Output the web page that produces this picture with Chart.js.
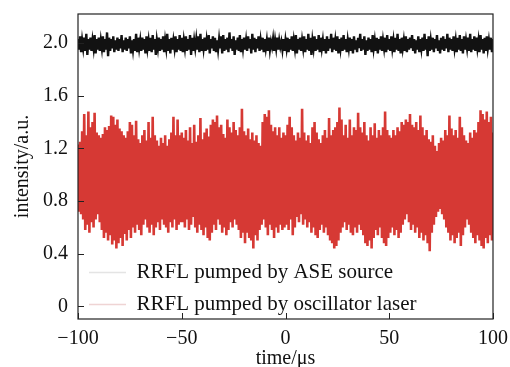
<!DOCTYPE html>
<html><head><meta charset="utf-8">
<script src="https://cdn.jsdelivr.net/npm/chart.js@4/dist/chart.umd.min.js"></script>
<style>html,body{margin:0;padding:0;background:#fff}#wrap{width:510px;height:367px}</style>
</head><body><div id="wrap"><canvas id="c" width="510" height="367"></canvas></div>
<script>
const xTicks = [-100, -50, 0, 50, 100];
const yTicks = [0, 0.4, 0.8, 1.2, 1.6, 2.0];
const yTickLabels = ['0', '0.4', '0.8', '1.2', '1.6', '2.0'];
const legendLabels = ['RRFL pumped by ASE source', 'RRFL pumped by oscillator laser'];

// red trace (oscillator-laser pumped): successive peak / trough readings, one pair per 1 µs from -100 µs
const redStart = -100, redStep = 1;
const redUpper = [
1.23,1.25,1.33,1.46,1.30,1.48,1.36,1.40,1.47,1.32,
1.30,1.28,1.31,1.36,1.34,1.37,1.45,1.44,1.38,1.42,
1.35,1.33,1.30,1.28,1.33,1.40,1.38,1.30,1.41,1.27,
1.24,1.30,1.34,1.26,1.40,1.28,1.44,1.30,1.26,1.22,
1.28,1.24,1.30,1.22,1.27,1.32,1.44,1.30,1.42,1.30,
1.32,1.28,1.34,1.26,1.36,1.24,1.38,1.25,1.30,1.43,
1.27,1.32,1.35,1.29,1.38,1.42,1.40,1.45,1.36,1.38,
1.31,1.28,1.42,1.36,1.32,1.40,1.34,1.30,1.36,1.50,
1.33,1.30,1.35,1.27,1.32,1.26,1.30,1.24,1.22,1.40,
1.46,1.44,1.49,1.38,1.33,1.36,1.30,1.36,1.28,1.32,
1.30,1.38,1.44,1.36,1.30,1.26,1.32,1.28,1.50,1.32,
1.26,1.30,1.24,1.36,1.40,1.32,1.27,1.24,1.30,1.34,
1.28,1.43,1.30,1.34,1.36,1.40,1.51,1.42,1.30,1.38,
1.28,1.42,1.30,1.36,1.34,1.47,1.36,1.32,1.40,1.30,
1.26,1.36,1.30,1.39,1.28,1.34,1.30,1.36,1.48,1.34,
1.30,1.28,1.34,1.30,1.36,1.33,1.40,1.38,1.42,1.40,
1.46,1.38,1.36,1.40,1.34,1.45,1.36,1.30,1.34,1.27,
1.25,1.30,1.22,1.18,1.24,1.28,1.26,1.34,1.30,1.45,
1.35,1.30,1.34,1.28,1.44,1.36,1.30,1.26,1.24,1.32,
1.28,1.34,1.32,1.40,1.49,1.46,1.42,1.48,1.40,1.44,
1.32];
const redLower = [
0.72,0.70,0.66,0.58,0.62,0.56,0.64,0.60,0.66,0.70,
0.64,0.58,0.52,0.56,0.50,0.54,0.47,0.50,0.44,0.48,
0.52,0.46,0.55,0.50,0.58,0.52,0.60,0.56,0.62,0.58,
0.54,0.62,0.66,0.60,0.56,0.62,0.54,0.60,0.64,0.58,
0.66,0.62,0.60,0.56,0.64,0.60,0.66,0.58,0.62,0.64,
0.64,0.60,0.66,0.58,0.62,0.68,0.60,0.56,0.62,0.58,
0.54,0.60,0.52,0.50,0.56,0.62,0.58,0.66,0.62,0.56,
0.60,0.54,0.58,0.64,0.60,0.66,0.62,0.58,0.52,0.56,
0.48,0.56,0.52,0.50,0.44,0.54,0.50,0.58,0.62,0.66,
0.60,0.54,0.62,0.58,0.52,0.60,0.56,0.62,0.58,0.60,
0.62,0.58,0.66,0.54,0.60,0.68,0.64,0.70,0.62,0.66,
0.60,0.64,0.56,0.60,0.54,0.52,0.58,0.62,0.56,0.60,
0.54,0.50,0.48,0.44,0.46,0.50,0.56,0.60,0.64,0.58,
0.62,0.56,0.54,0.60,0.56,0.62,0.58,0.54,0.48,0.46,
0.50,0.44,0.52,0.58,0.54,0.60,0.52,0.48,0.46,0.52,
0.56,0.60,0.54,0.58,0.52,0.56,0.62,0.66,0.70,0.64,
0.58,0.62,0.56,0.60,0.52,0.56,0.50,0.54,0.48,0.42,
0.56,0.62,0.68,0.72,0.74,0.70,0.66,0.60,0.56,0.50,
0.54,0.48,0.52,0.56,0.46,0.54,0.60,0.66,0.62,0.56,
0.52,0.48,0.54,0.50,0.46,0.44,0.52,0.48,0.54,0.50,
0.56];

// black trace (ASE pumped): successive peak / trough readings, one pair per 1 µs from -100 µs
const blackStart = -100, blackStep = 1;
const blackUpper = [
2.03,2.05,2.02,2.04,2.07,2.03,2.04,2.02,2.06,2.03,
2.04,2.02,2.05,2.03,2.08,2.04,2.03,2.05,2.02,2.04,
2.03,2.06,2.02,2.04,2.03,2.05,2.02,2.03,2.07,2.04,
2.02,2.04,2.03,2.05,2.02,2.04,2.06,2.03,2.02,2.04,
2.03,2.05,2.02,2.07,2.03,2.04,2.02,2.05,2.03,2.06,
2.04,2.02,2.05,2.03,2.06,2.04,2.02,2.03,2.05,2.07,
2.03,2.04,2.02,2.06,2.03,2.05,2.04,2.02,2.03,2.05,
2.06,2.03,2.04,2.08,2.03,2.05,2.02,2.04,2.06,2.03,
2.04,2.02,2.05,2.03,2.07,2.04,2.03,2.05,2.02,2.04,
2.03,2.02,2.04,2.01,2.03,2.02,2.04,2.02,2.01,2.03,
2.02,2.04,2.03,2.05,2.02,2.06,2.03,2.04,2.02,2.05,
2.03,2.07,2.04,2.02,2.05,2.03,2.06,2.04,2.02,2.03,
2.05,2.03,2.07,2.04,2.02,2.05,2.03,2.04,2.06,2.03,
2.02,2.04,2.03,2.05,2.02,2.04,2.07,2.03,2.05,2.02,
2.04,2.03,2.06,2.02,2.04,2.03,2.05,2.02,2.04,2.06,
2.03,2.05,2.02,2.04,2.07,2.03,2.04,2.02,2.05,2.03,
2.04,2.06,2.03,2.02,2.05,2.03,2.04,2.07,2.03,2.05,
2.02,2.04,2.03,2.06,2.02,2.04,2.05,2.03,2.07,2.04,
2.03,2.05,2.02,2.04,2.06,2.03,2.05,2.02,2.04,2.07,
2.03,2.05,2.04,2.02,2.06,2.03,2.04,2.05,2.02,2.04,
2.03];
const blackLower = [
1.95,1.93,1.96,1.94,1.91,1.95,1.94,1.96,1.92,1.95,
1.94,1.96,1.93,1.95,1.90,1.94,1.96,1.93,1.95,1.94,
1.96,1.93,1.95,1.94,1.96,1.92,1.95,1.94,1.93,1.96,
1.94,1.95,1.92,1.96,1.94,1.93,1.95,1.91,1.96,1.94,
1.95,1.93,1.96,1.94,1.92,1.95,1.96,1.93,1.95,1.94,
1.93,1.96,1.94,1.95,1.91,1.94,1.96,1.95,1.93,1.94,
1.96,1.94,1.95,1.92,1.96,1.94,1.93,1.95,1.96,1.92,
1.94,1.95,1.93,1.96,1.94,1.91,1.95,1.94,1.93,1.96,
1.95,1.94,1.96,1.92,1.95,1.93,1.96,1.94,1.95,1.93,
1.96,1.94,1.95,1.97,1.94,1.96,1.95,1.97,1.95,1.94,
1.96,1.93,1.95,1.94,1.96,1.92,1.95,1.94,1.96,1.93,
1.95,1.94,1.91,1.96,1.94,1.95,1.93,1.96,1.94,1.92,
1.94,1.96,1.93,1.95,1.94,1.92,1.96,1.94,1.95,1.93,
1.96,1.94,1.92,1.95,1.93,1.96,1.94,1.95,1.91,1.94,
1.95,1.93,1.96,1.94,1.92,1.95,1.94,1.96,1.93,1.95,
1.94,1.96,1.93,1.95,1.94,1.92,1.96,1.94,1.93,1.95,
1.96,1.94,1.92,1.95,1.93,1.96,1.94,1.95,1.90,1.94,
1.95,1.93,1.96,1.94,1.92,1.95,1.94,1.96,1.93,1.95,
1.94,1.96,1.93,1.95,1.94,1.92,1.95,1.96,1.94,1.93,
1.95,1.94,1.96,1.93,1.95,1.92,1.94,1.96,1.95,1.93,
1.95];

// interleave peak (at t) and trough (at t + step/2) readings into one oscillating trace
function toTrace(start, step, peaks, troughs) {
  const pts = [];
  for (let i = 0; i < peaks.length; i++) {
    pts.push({ x: start + i * step, y: peaks[i] });
    pts.push({ x: start + i * step + step / 2, y: troughs[i] });
  }
  return pts;
}

const RED = 'rgb(214,57,52)';
const BLACK = '#121212';

Chart.defaults.font.family = "'Liberation Serif','Times New Roman',serif";
Chart.defaults.font.size = 20;
Chart.defaults.color = '#111';

const framePlugin = {
  id: 'frame',
  afterLayout(chart) {
    const lg = chart.legend, a = chart.chartArea;
    if (lg && a) { lg.top = a.top; lg.bottom = a.bottom + 7; }
  },
  afterDatasetsDraw(chart) {
    const { ctx, chartArea: a, scales: { x, y } } = chart;
    ctx.save();
    ctx.strokeStyle = '#222';
    ctx.lineWidth = 1.2;
    ctx.strokeRect(a.left, a.top, a.right - a.left, a.bottom - a.top);
    ctx.beginPath();
    xTicks.forEach(v => { const px = Math.round(x.getPixelForValue(v)) + 0.5; ctx.moveTo(px, a.bottom); ctx.lineTo(px, a.bottom - 6); });
    yTicks.forEach(v => { const py = Math.round(y.getPixelForValue(v)) + 0.5; ctx.moveTo(a.left, py); ctx.lineTo(a.left + 6, py); });
    ctx.lineWidth = 1;
    ctx.stroke();
    ctx.restore();
  }
};

new Chart(document.getElementById('c'), {
  type: 'line',
  data: {
    datasets: [
      { label: legendLabels[1], data: toTrace(redStart, redStep, redUpper, redLower), borderColor: RED, borderWidth: 2.6, borderJoinStyle: 'miter', fill: false, pointRadius: 0, tension: 0 },
      { label: legendLabels[0], data: toTrace(blackStart, blackStep, blackUpper, blackLower), borderColor: BLACK, borderWidth: 2.4, borderJoinStyle: 'miter', fill: false, pointRadius: 0, tension: 0 }
    ]
  },
  options: {
    responsive: false,
    animation: false,
    events: [],
    layout: { padding: { top: 14, right: 17, left: 0, bottom: 0 } },
    plugins: {
      tooltip: { enabled: false },
      legend: {
        position: 'chartArea',
        align: 'end',
        labels: {
          usePointStyle: true,
          pointStyleWidth: 37,
          padding: 11,
          color: '#111',
          font: { size: 21 },
          generateLabels: () => [
            { text: legendLabels[0], strokeStyle: '#e4e4e4', fillStyle: '#e4e4e4', lineWidth: 1.5, pointStyle: 'line', hidden: false, datasetIndex: 1, fontColor: '#111' },
            { text: legendLabels[1], strokeStyle: '#efd4d4', fillStyle: '#efd4d4', lineWidth: 1.5, pointStyle: 'line', hidden: false, datasetIndex: 0, fontColor: '#111' }
          ]
        }
      }
    },
    scales: {
      x: {
        type: 'linear', min: -100, max: 100,
        afterBuildTicks: s => { s.ticks = xTicks.map(v => ({ value: v })); },
        ticks: { callback: v => String(v).replace('-', '\u2212'), padding: 8, maxRotation: 0, autoSkip: false, color: '#111' },
        grid: { display: false, drawTicks: false },
        border: { display: false },
        title: { display: true, text: 'time/μs', color: '#111', padding: { top: 0, bottom: -4 } },
        afterFit: s => { s.height = 48; s.paddingLeft = 0; s.paddingRight = 0; }
      },
      y: {
        type: 'linear', min: -0.095, max: 2.22,
        afterBuildTicks: s => { s.ticks = yTicks.map(v => ({ value: v })); },
        ticks: { callback: v => { const i = yTicks.findIndex(t => Math.abs(t - v) < 1e-9); return i >= 0 ? yTickLabels[i] : ''; }, padding: 10, autoSkip: false, color: '#111' },
        grid: { display: false, drawTicks: false },
        border: { display: false },
        title: { display: true, text: 'intensity/a.u.', color: '#111', padding: { top: 11, bottom: 0 } },
        afterFit: s => { s.width = 78; s.paddingTop = 0; s.paddingBottom = 0; }
      }
    }
  },
  plugins: [framePlugin]
});
</script></body></html>
